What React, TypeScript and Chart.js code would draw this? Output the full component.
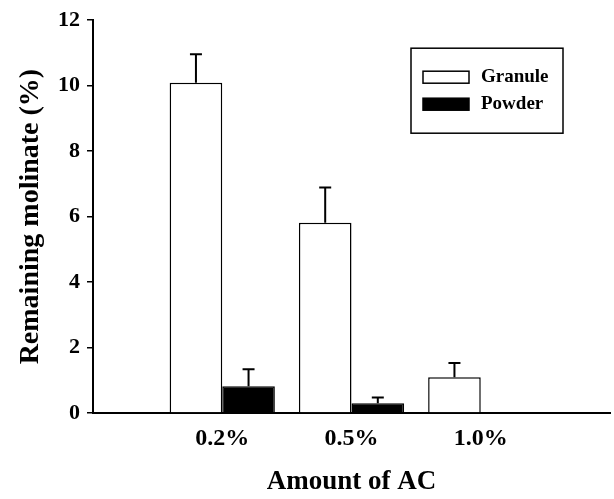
import React, { useEffect, useRef } from "react";
import { Chart, registerables } from "chart.js";

Chart.register(...registerables);

const categories = ["", "0.2%", "0.5%", "1.0%", ""];
const granuleValues = [null, 10.09, 5.81, 1.09, null];
const granuleErrors = [null, 0.87, 1.08, 0.44, null];
const powderValues = [null, 0.82, 0.3, 0, null];
const powderErrors = [null, 0.52, 0.17, null, null];
const yTicks = [0, 2, 4, 6, 8, 10, 12];

const FONT = "'Liberation Serif', 'Times New Roman', serif";

const errorBarPlugin = {
  id: "errorBars",
  afterDatasetsDraw(chart: any) {
    const ctx = chart.ctx;
    const yScale = chart.scales.y;
    chart.data.datasets.forEach((ds: any, di: number) => {
      const meta = chart.getDatasetMeta(di);
      const errs = ds.errors || [];
      meta.data.forEach((el: any, i: number) => {
        const v = ds.data[i];
        const e = errs[i];
        if (v == null || e == null) return;
        const x = el.x;
        const y0 = yScale.getPixelForValue(v);
        const y1 = yScale.getPixelForValue(v + e);
        ctx.save();
        ctx.strokeStyle = "#000";
        ctx.lineWidth = 2;
        ctx.beginPath();
        ctx.moveTo(x, y0);
        ctx.lineTo(x, y1);
        ctx.moveTo(x - 6, y1);
        ctx.lineTo(x + 6, y1);
        ctx.stroke();
        ctx.restore();
      });
    });
  },
};

const legendBoxPlugin = {
  id: "legendBox",
  afterDraw(chart: any) {
    const ctx = chart.ctx;
    const area = chart.chartArea;
    const bx = area.right - 199;
    const by = area.top + 28;
    const bw = 152;
    const bh = 85;
    ctx.save();
    ctx.fillStyle = "#fff";
    ctx.fillRect(bx, by, bw, bh);
    ctx.strokeStyle = "#000";
    ctx.lineWidth = 1.5;
    ctx.strokeRect(bx, by, bw, bh);
    chart.data.datasets.forEach((ds: any, i: number) => {
      const sy = by + 23 + i * 27;
      ctx.fillStyle = ds.backgroundColor;
      ctx.fillRect(bx + 12, sy, 46, 12);
      ctx.lineWidth = 1.5;
      ctx.strokeStyle = "#000";
      ctx.strokeRect(bx + 12, sy, 46, 12);
      ctx.fillStyle = "#000";
      ctx.font = `bold 19px ${FONT}`;
      ctx.textBaseline = "middle";
      ctx.textAlign = "left";
      ctx.fillText(ds.label, bx + 70, sy + 6);
    });
    ctx.restore();
  },
};

export default function App() {
  const ref = useRef<HTMLCanvasElement | null>(null);
  useEffect(() => {
    if (!ref.current) return;
    const chart = new Chart(ref.current, {
      type: "bar",
      data: {
        labels: categories,
        datasets: [
          {
            label: "Granule",
            data: granuleValues,
            errors: granuleErrors,
            backgroundColor: "#ffffff",
            borderColor: "#000000",
            borderWidth: 1.5,
          } as any,
          {
            label: "Powder",
            data: powderValues,
            errors: powderErrors,
            backgroundColor: "#000000",
            borderColor: "#000000",
            borderWidth: 1.5,
          } as any,
        ],
      },
      options: {
        animation: false,
        responsive: false,
        maintainAspectRatio: false,
        layout: { padding: { left: 0, right: 4, top: 19, bottom: 0 } },
        plugins: {
          legend: { display: false },
          tooltip: { enabled: false },
        },
        datasets: {
          bar: { categoryPercentage: 0.814, barPercentage: 1 },
        },
        scales: {
          x: {
            offset: false,
            grid: {
              display: true,
              drawOnChartArea: false,
              drawTicks: true,
              tickLength: 10,
              color: "rgba(0,0,0,0)",
            },
            border: { display: true, color: "#000", width: 2 },
            ticks: {
              color: "#000",
              font: { family: FONT, size: 24, weight: "bold" },
              padding: 1,
              maxRotation: 0,
              autoSkip: false,
            },
            title: {
              display: true,
              text: "Amount of AC",
              color: "#000",
              font: { family: FONT, size: 27, weight: "bold" },
              padding: { top: 0, bottom: 1 },
            },
            afterFit(scale: any) {
              scale.height = 86;
            },
          },
          y: {
            min: 0,
            max: 12,
            afterBuildTicks(scale: any) {
              scale.ticks = yTicks.map((v) => ({ value: v }));
            },
            grid: {
              display: true,
              drawOnChartArea: false,
              drawTicks: true,
              tickLength: 6,
              color: "#000",
              lineWidth: 1.5,
            },
            border: { display: true, color: "#000", width: 2 },
            ticks: {
              color: "#000",
              font: { family: FONT, size: 22, weight: "bold" },
              padding: 7,
            },
            title: {
              display: true,
              text: "Remaining molinate (%)",
              color: "#000",
              font: { family: FONT, size: 28, weight: "bold" },
              padding: { top: 14, bottom: 0 },
            },
            afterFit(scale: any) {
              scale.width = 93;
            },
          },
        },
      } as any,
      plugins: [errorBarPlugin, legendBoxPlugin],
    });
    return () => chart.destroy();
  }, []);
  return (
    <div style={{ position: "fixed", left: 0, top: 0, width: 614, height: 499, background: "#fff" }}>
      <canvas ref={ref} width={614} height={499} style={{ width: 614, height: 499 }} />
    </div>
  );
}
